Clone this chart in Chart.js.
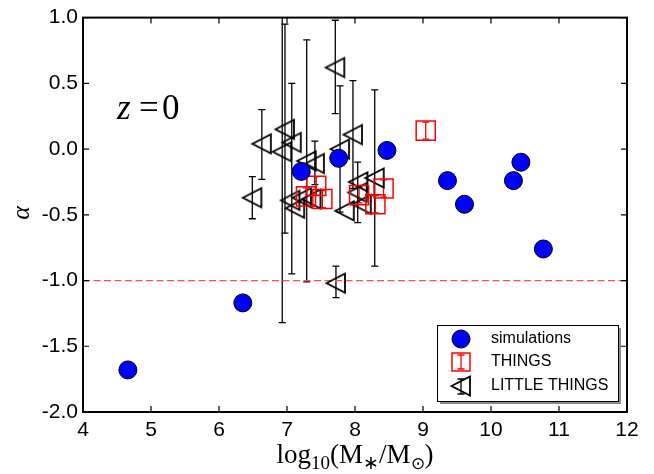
<!DOCTYPE html>
<html>
<head>
<meta charset="utf-8">
<script src="https://cdn.jsdelivr.net/npm/chart.js@4/dist/chart.umd.min.js"></script>
<style>
body{margin:0;background:#fff;}
</style>
</head>
<body>
<canvas id="myChart" width="654" height="474"></canvas>
<script>
// simulations
let simX=[4.66,6.35,7.21,7.76,8.47,9.36,9.61,10.33,10.44,10.77];
let simY=[-1.68,-1.17,-0.17,-0.07,-0.01,-0.24,-0.42,-0.24,-0.10,-0.76];

// THINGS
let thingsX=[7.28,7.43,7.52,8.06,8.30,8.42,9.04];
let thingsY=[-0.36,-0.28,-0.38,-0.35,-0.42,-0.30,0.14];
let thingsErr=[0.065,0.07,0.065,0.06,0.065,0.065,0.065];

// LITTLE THINGS (lower / upper errors, 0 = no bar)
let littleX=[6.49,6.63,6.93,6.97,7.07,7.29,7.41,7.71,7.72,7.78,7.97,8.04,8.29,7.05,7.12,7.22,7.36,7.85,8.05,8.10];
let littleY=[-0.37,0.04,-0.02,0.15,0.05,-0.09,-0.11,0.62,-1.02,0.00,0.11,-0.33,-0.22,-0.39,-0.45,-0.37,-0.38,-0.47,-0.25,-0.42];
let littleErrLo=[0.16,0.27,1.30,0.79,1.00,0.92,0.16,0.35,0.11,0.48,0.41,0.23,0.67,0,0,0,0,0,0,0];
let littleErrHi=[0.16,0.26,1.30,0.80,0.45,0.92,0.17,0.36,0.13,0.48,0.41,0.23,0.67,0,0,0,0,0,0,0];

// reference line alpha = -1
let refY=-1.0;

let xTicks=[4,5,6,7,8,9,10,11,12];
let yTicks=[-2.0,-1.5,-1.0,-0.5,0.0,0.5,1.0];

function pts(xs,ys){
    let out=[];
    for(let i=0;i<xs.length;i++){
        out.push({x:xs[i],y:ys[i]});
    }
    return out;
}

// left pointing open triangle like matplotlib '<'
function triImage(){
    let c=document.createElement("canvas");
    c.width=24;c.height=24;
    let g=c.getContext("2d");
    g.strokeStyle="#000";
    g.lineWidth=1.8;
    g.beginPath();
    g.moveTo(2.5,12);
    g.lineTo(21,2.5);
    g.lineTo(21,21.5);
    g.closePath();
    g.stroke();
    return c;
}
let tri=triImage();

function errBar(ctx,x,y1,y2,cap){
    ctx.beginPath();
    ctx.moveTo(x,y1);ctx.lineTo(x,y2);
    ctx.moveTo(x-cap,y1);ctx.lineTo(x+cap,y1);
    ctx.moveTo(x-cap,y2);ctx.lineTo(x+cap,y2);
    ctx.stroke();
}

const errorBars={
    id:"errorBars",
    beforeDatasetsDraw(chart){
        let ctx=chart.ctx, a=chart.chartArea;
        let xs=chart.scales.x, ys=chart.scales.y;
        ctx.save();
        ctx.beginPath();
        ctx.rect(a.left,a.top,a.right-a.left,a.bottom-a.top);
        ctx.clip();
        ctx.lineWidth=1.3;
        ctx.strokeStyle="#000";
        for(let i=0;i<littleX.length;i++){
            if(!littleErrLo[i]&&!littleErrHi[i]) continue;
            let px=xs.getPixelForValue(littleX[i]);
            errBar(ctx,px,ys.getPixelForValue(littleY[i]+littleErrHi[i]),ys.getPixelForValue(littleY[i]-littleErrLo[i]),3.5);
        }
        ctx.strokeStyle="#ff0000";
        for(let i=0;i<thingsX.length;i++){
            let px=xs.getPixelForValue(thingsX[i]);
            errBar(ctx,px,ys.getPixelForValue(thingsY[i]+thingsErr[i]),ys.getPixelForValue(thingsY[i]-thingsErr[i]),3.5);
        }
        ctx.restore();
    }
};

const frame={
    id:"frame",
    afterDraw(chart){
        let ctx=chart.ctx, a=chart.chartArea;
        let xs=chart.scales.x, ys=chart.scales.y;
        ctx.save();
        ctx.strokeStyle="#000";
        ctx.lineWidth=1.2;
        ctx.beginPath();
        xTicks.forEach(v=>{
            let px=xs.getPixelForValue(v);
            ctx.moveTo(px,a.bottom);ctx.lineTo(px,a.bottom-6);
            ctx.moveTo(px,a.top);ctx.lineTo(px,a.top+6);
        });
        yTicks.forEach(v=>{
            let py=ys.getPixelForValue(v);
            ctx.moveTo(a.left,py);ctx.lineTo(a.left+6,py);
            ctx.moveTo(a.right,py);ctx.lineTo(a.right-6,py);
        });
        ctx.stroke();
        ctx.lineWidth=2;
        ctx.strokeRect(a.left,a.top,a.right-a.left,a.bottom-a.top);

        // z = 0
        ctx.fillStyle="#000";
        ctx.textBaseline="alphabetic";
        ctx.font="italic 35px 'Liberation Serif'";
        ctx.fillText("z",117,119);
        ctx.font="35px 'Liberation Serif'";
        ctx.fillText("=",139,119);
        ctx.fillText("0",162,119);

        // y label
        ctx.save();
        ctx.translate(29,213);
        ctx.rotate(-Math.PI/2);
        ctx.textAlign="center";
        ctx.font="italic 26px 'Liberation Serif'";
        ctx.fillText("\u03b1",0,0);
        ctx.restore();

        // x label with subscripts
        let parts=[["log",27,0],["10",19,6],["(M",27,0],["\u2217",19,6],["/M",27,0],["\u2299",17,6],[")",27,0]];
        let w=0;
        parts.forEach(p=>{ctx.font=p[1]+"px 'Liberation Serif'";w+=ctx.measureText(p[0]).width;});
        let x=(a.left+a.right)/2-w/2, base=463;
        parts.forEach(p=>{
            ctx.font=p[1]+"px 'Liberation Serif'";
            ctx.fillText(p[0],x,base+p[2]);
            x+=ctx.measureText(p[0]).width;
        });

        // legend
        ctx.fillStyle="#8a8a8a";
        ctx.fillRect(440,328,181,76);
        ctx.fillStyle="#fff";
        ctx.fillRect(437,325,181,76);
        ctx.lineWidth=1;
        ctx.strokeStyle="#000";
        ctx.strokeRect(437.5,325.5,181,76);

        ctx.beginPath();
        ctx.arc(461,339,9,0,Math.PI*2);
        ctx.fillStyle="#0000ff";
        ctx.fill();
        ctx.stroke();

        ctx.strokeStyle="#ff0000";
        ctx.lineWidth=1.5;
        ctx.strokeRect(452,353,18,18);
        ctx.lineWidth=1.3;
        errBar(ctx,461,355,369,3.5);

        ctx.strokeStyle="#000";
        errBar(ctx,461,379,394,3.5);
        ctx.drawImage(tri,449,374);

        ctx.fillStyle="#000";
        ctx.font="16px 'Liberation Sans'";
        ctx.textBaseline="middle";
        ctx.fillText("simulations",491,339);
        ctx.fillText("THINGS",491,362);
        ctx.fillText("LITTLE THINGS",491,386);
        ctx.restore();
    }
};

const ctx=document.getElementById("myChart").getContext("2d");
const myChart=new Chart(ctx,{
    type:"scatter",
    data:{
        datasets:[{
            label:"simulations",
            data:pts(simX,simY),
            pointStyle:"circle",
            pointRadius:9,
            pointHoverRadius:9,
            backgroundColor:"#0000ff",
            borderColor:"#000",
            borderWidth:1
        },{
            label:"THINGS",
            data:pts(thingsX,thingsY),
            pointStyle:"rect",
            pointRadius:13.5,
            pointHoverRadius:13.5,
            backgroundColor:"rgba(0,0,0,0)",
            borderColor:"#ff0000",
            borderWidth:1.5
        },{
            label:"LITTLE THINGS",
            data:pts(littleX,littleY),
            pointStyle:tri,
            pointRadius:10,
            borderColor:"#000"
        },{
            label:"ref",
            data:[{x:xTicks[0],y:refY},{x:xTicks[xTicks.length-1],y:refY}],
            showLine:true,
            pointRadius:0,
            borderColor:"#ff5050",
            borderWidth:1.3,
            borderDash:[7,3.5]
        }]
    },
    options:{
        responsive:false,
        animation:false,
        devicePixelRatio:1,
        layout:{padding:{top:16,right:27,left:0,bottom:0}},
        plugins:{legend:{display:false},tooltip:{enabled:false}},
        scales:{
            x:{
                type:"linear",
                min:4,max:12,
                grid:{display:false,drawTicks:false},
                border:{display:false},
                afterBuildTicks:function(s){s.ticks=xTicks.map(v=>({value:v}));},
                afterFit:function(s){s.height=62;},
                ticks:{
                    color:"#000",
                    padding:6,
                    maxRotation:0,
                    font:{family:"Liberation Sans",size:21},
                    callback:function(v){return String(v);}
                }
            },
            y:{
                type:"linear",
                min:-2,max:1,
                grid:{display:false,drawTicks:false},
                border:{display:false},
                afterBuildTicks:function(s){s.ticks=yTicks.map(v=>({value:v}));},
                afterFit:function(s){s.width=83;},
                ticks:{
                    color:"#000",
                    padding:5,
                    font:{family:"Liberation Sans",size:21},
                    callback:function(v){return v.toFixed(1);}
                }
            }
        }
    },
    plugins:[errorBars,frame]
});
</script>
</body>
</html>
